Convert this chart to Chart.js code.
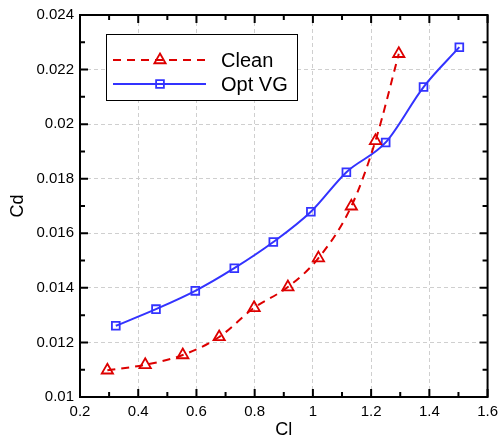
<!DOCTYPE html>
<html>
<head>
<meta charset="utf-8">
<script src="https://cdn.jsdelivr.net/npm/chart.js@4"></script>
<style>
  body { margin: 0; background: #fff; }
  canvas { display: block; }
</style>
</head>
<body>
<canvas id="polar" width="504" height="441"></canvas>
<script>
// drag polar: Cd against Cl, clean airfoil vs optimised vortex generators
const cleanCl = [0.294, 0.424, 0.553, 0.678, 0.798, 0.914, 1.019, 1.132, 1.215, 1.295];
const cleanCd = [0.01098, 0.01118, 0.01154, 0.0122, 0.01327, 0.01403, 0.01509, 0.01699, 0.01939, 0.02258];
const vgCl = [0.323, 0.461, 0.596, 0.730, 0.864, 0.993, 1.115, 1.250, 1.380, 1.503];
const vgCd = [0.01261, 0.01322, 0.01389, 0.01472, 0.01568, 0.01679, 0.01824, 0.01933, 0.02136, 0.02282];

const xTicks = [0.2, 0.4, 0.6, 0.8, 1.0, 1.2, 1.4, 1.6];
const xTickLabels = ['0.2', '0.4', '0.6', '0.8', '1', '1.2', '1.4', '1.6'];
const yTicks = [0.010, 0.012, 0.014, 0.016, 0.018, 0.020, 0.022, 0.024];
const yTickLabels = ['0.01', '0.012', '0.014', '0.016', '0.018', '0.02', '0.022', '0.024'];

const FONT = "'Liberation Sans', Arial, Helvetica, sans-serif";

function toPoints(xs, ys) {
    return xs.map((x, i) => ({ x: x, y: ys[i] }));
}

// box frame with inward major + minor ticks on all four sides
const framePlugin = {
    id: 'frame',
    afterDraw(chart) {
        const ctx = chart.ctx;
        const a = chart.chartArea;
        const xs = chart.scales.x, ys = chart.scales.y;
        ctx.save();
        ctx.strokeStyle = '#000';
        ctx.lineWidth = 2;
        ctx.beginPath();
        const tick = (px, major, vertical) => {
            const len = major ? 8 : 5;
            if (vertical) {
                ctx.moveTo(px, a.bottom); ctx.lineTo(px, a.bottom - len);
                ctx.moveTo(px, a.top); ctx.lineTo(px, a.top + len);
            } else {
                ctx.moveTo(a.left, px); ctx.lineTo(a.left + len, px);
                ctx.moveTo(a.right, px); ctx.lineTo(a.right - len, px);
            }
        };
        xTicks.forEach((v, i) => {
            tick(xs.getPixelForValue(v), true, true);
            if (i > 0) tick(xs.getPixelForValue((v + xTicks[i - 1]) / 2), false, true);
        });
        yTicks.forEach((v, i) => {
            tick(ys.getPixelForValue(v), true, false);
            if (i > 0) tick(ys.getPixelForValue((v + yTicks[i - 1]) / 2), false, false);
        });
        ctx.stroke();
        ctx.strokeRect(a.left, a.top, a.right - a.left, a.bottom - a.top);
        ctx.restore();
    }
};

// boxed legend inside the plot, line sample with its marker
const boxLegend = {
    id: 'boxLegend',
    afterDraw(chart) {
        const ctx = chart.ctx;
        const box = { x: 106, y: 34, w: 191, h: 66 };
        ctx.save();
        ctx.fillStyle = '#fff';
        ctx.fillRect(box.x, box.y, box.w, box.h);
        ctx.strokeStyle = '#000';
        ctx.lineWidth = 1;
        ctx.strokeRect(box.x + 0.5, box.y + 0.5, box.w, box.h);
        chart.data.datasets.forEach((ds, i) => {
            const y = 60 + i * 24;
            ctx.strokeStyle = ds.borderColor;
            ctx.lineWidth = ds.borderWidth;
            ctx.setLineDash(ds.borderDash || []);
            ctx.beginPath();
            ctx.moveTo(113, y);
            ctx.lineTo(206, y);
            ctx.stroke();
            ctx.setLineDash([]);
            ctx.lineWidth = ds.pointBorderWidth;
            ctx.fillStyle = 'rgba(0,0,0,0)';
            Chart.helpers.drawPoint(ctx, {
                pointStyle: ds.pointStyle,
                radius: ds.pointRadius,
                borderWidth: ds.pointBorderWidth
            }, 160, y);
            ctx.fillStyle = '#000';
            ctx.font = '20px ' + FONT;
            ctx.textBaseline = 'middle';
            ctx.fillText(ds.label, 221, y + 1);
        });
        ctx.restore();
    }
};

const ctx = document.getElementById('polar').getContext('2d');
new Chart(ctx, {
    type: 'line',
    data: {
        datasets: [{
            label: 'Clean',
            data: toPoints(cleanCl, cleanCd),
            borderColor: '#dd0000',
            borderWidth: 2,
            borderDash: [8, 6],
            pointStyle: 'triangle',
            pointRadius: 6.5,
            pointBorderWidth: 1.8,
            pointBackgroundColor: 'rgba(0,0,0,0)',
            pointBorderColor: '#dd0000',
            cubicInterpolationMode: 'monotone',
            fill: false
        }, {
            label: 'Opt VG',
            data: toPoints(vgCl, vgCd),
            borderColor: '#3333ff',
            borderWidth: 2,
            pointStyle: 'rect',
            pointRadius: 5.5,
            pointBorderWidth: 1.8,
            pointBackgroundColor: 'rgba(0,0,0,0)',
            pointBorderColor: '#3333ff',
            cubicInterpolationMode: 'monotone',
            fill: false
        }]
    },
    options: {
        responsive: false,
        animation: false,
        layout: { padding: { top: 13, right: 12, left: 0, bottom: 0 } },
        plugins: {
            legend: { display: false },
            tooltip: { enabled: false }
        },
        scales: {
            x: {
                type: 'linear',
                min: 0.2,
                max: 1.6,
                afterBuildTicks: s => { s.ticks = xTicks.map(v => ({ value: v })); },
                afterFit: s => { s.height = 44; },
                ticks: {
                    callback: (v, i) => xTickLabels[i],
                    color: '#000',
                    padding: 6,
                    maxRotation: 0,
                    font: { family: FONT, size: 15 }
                },
                grid: { color: '#cfcfcf', lineWidth: 1, drawTicks: false },
                border: { display: false, dash: [4, 3] },
                title: {
                    display: true,
                    text: 'Cl',
                    color: '#000',
                    padding: { top: 0, bottom: 0 },
                    font: { family: FONT, size: 18 }
                }
            },
            y: {
                type: 'linear',
                min: 0.01,
                max: 0.024,
                afterBuildTicks: s => { s.ticks = yTicks.map(v => ({ value: v })); },
                afterFit: s => { s.width = 80; },
                ticks: {
                    callback: (v, i) => yTickLabels[i],
                    color: '#000',
                    padding: 6,
                    font: { family: FONT, size: 15 }
                },
                grid: { color: '#cfcfcf', lineWidth: 1, drawTicks: false },
                border: { display: false, dash: [4, 3] },
                title: {
                    display: true,
                    text: 'Cd',
                    color: '#000',
                    padding: { top: 7, bottom: 0 },
                    font: { family: FONT, size: 18 }
                }
            }
        }
    },
    plugins: [framePlugin, boxLegend]
});
</script>
</body>
</html>
